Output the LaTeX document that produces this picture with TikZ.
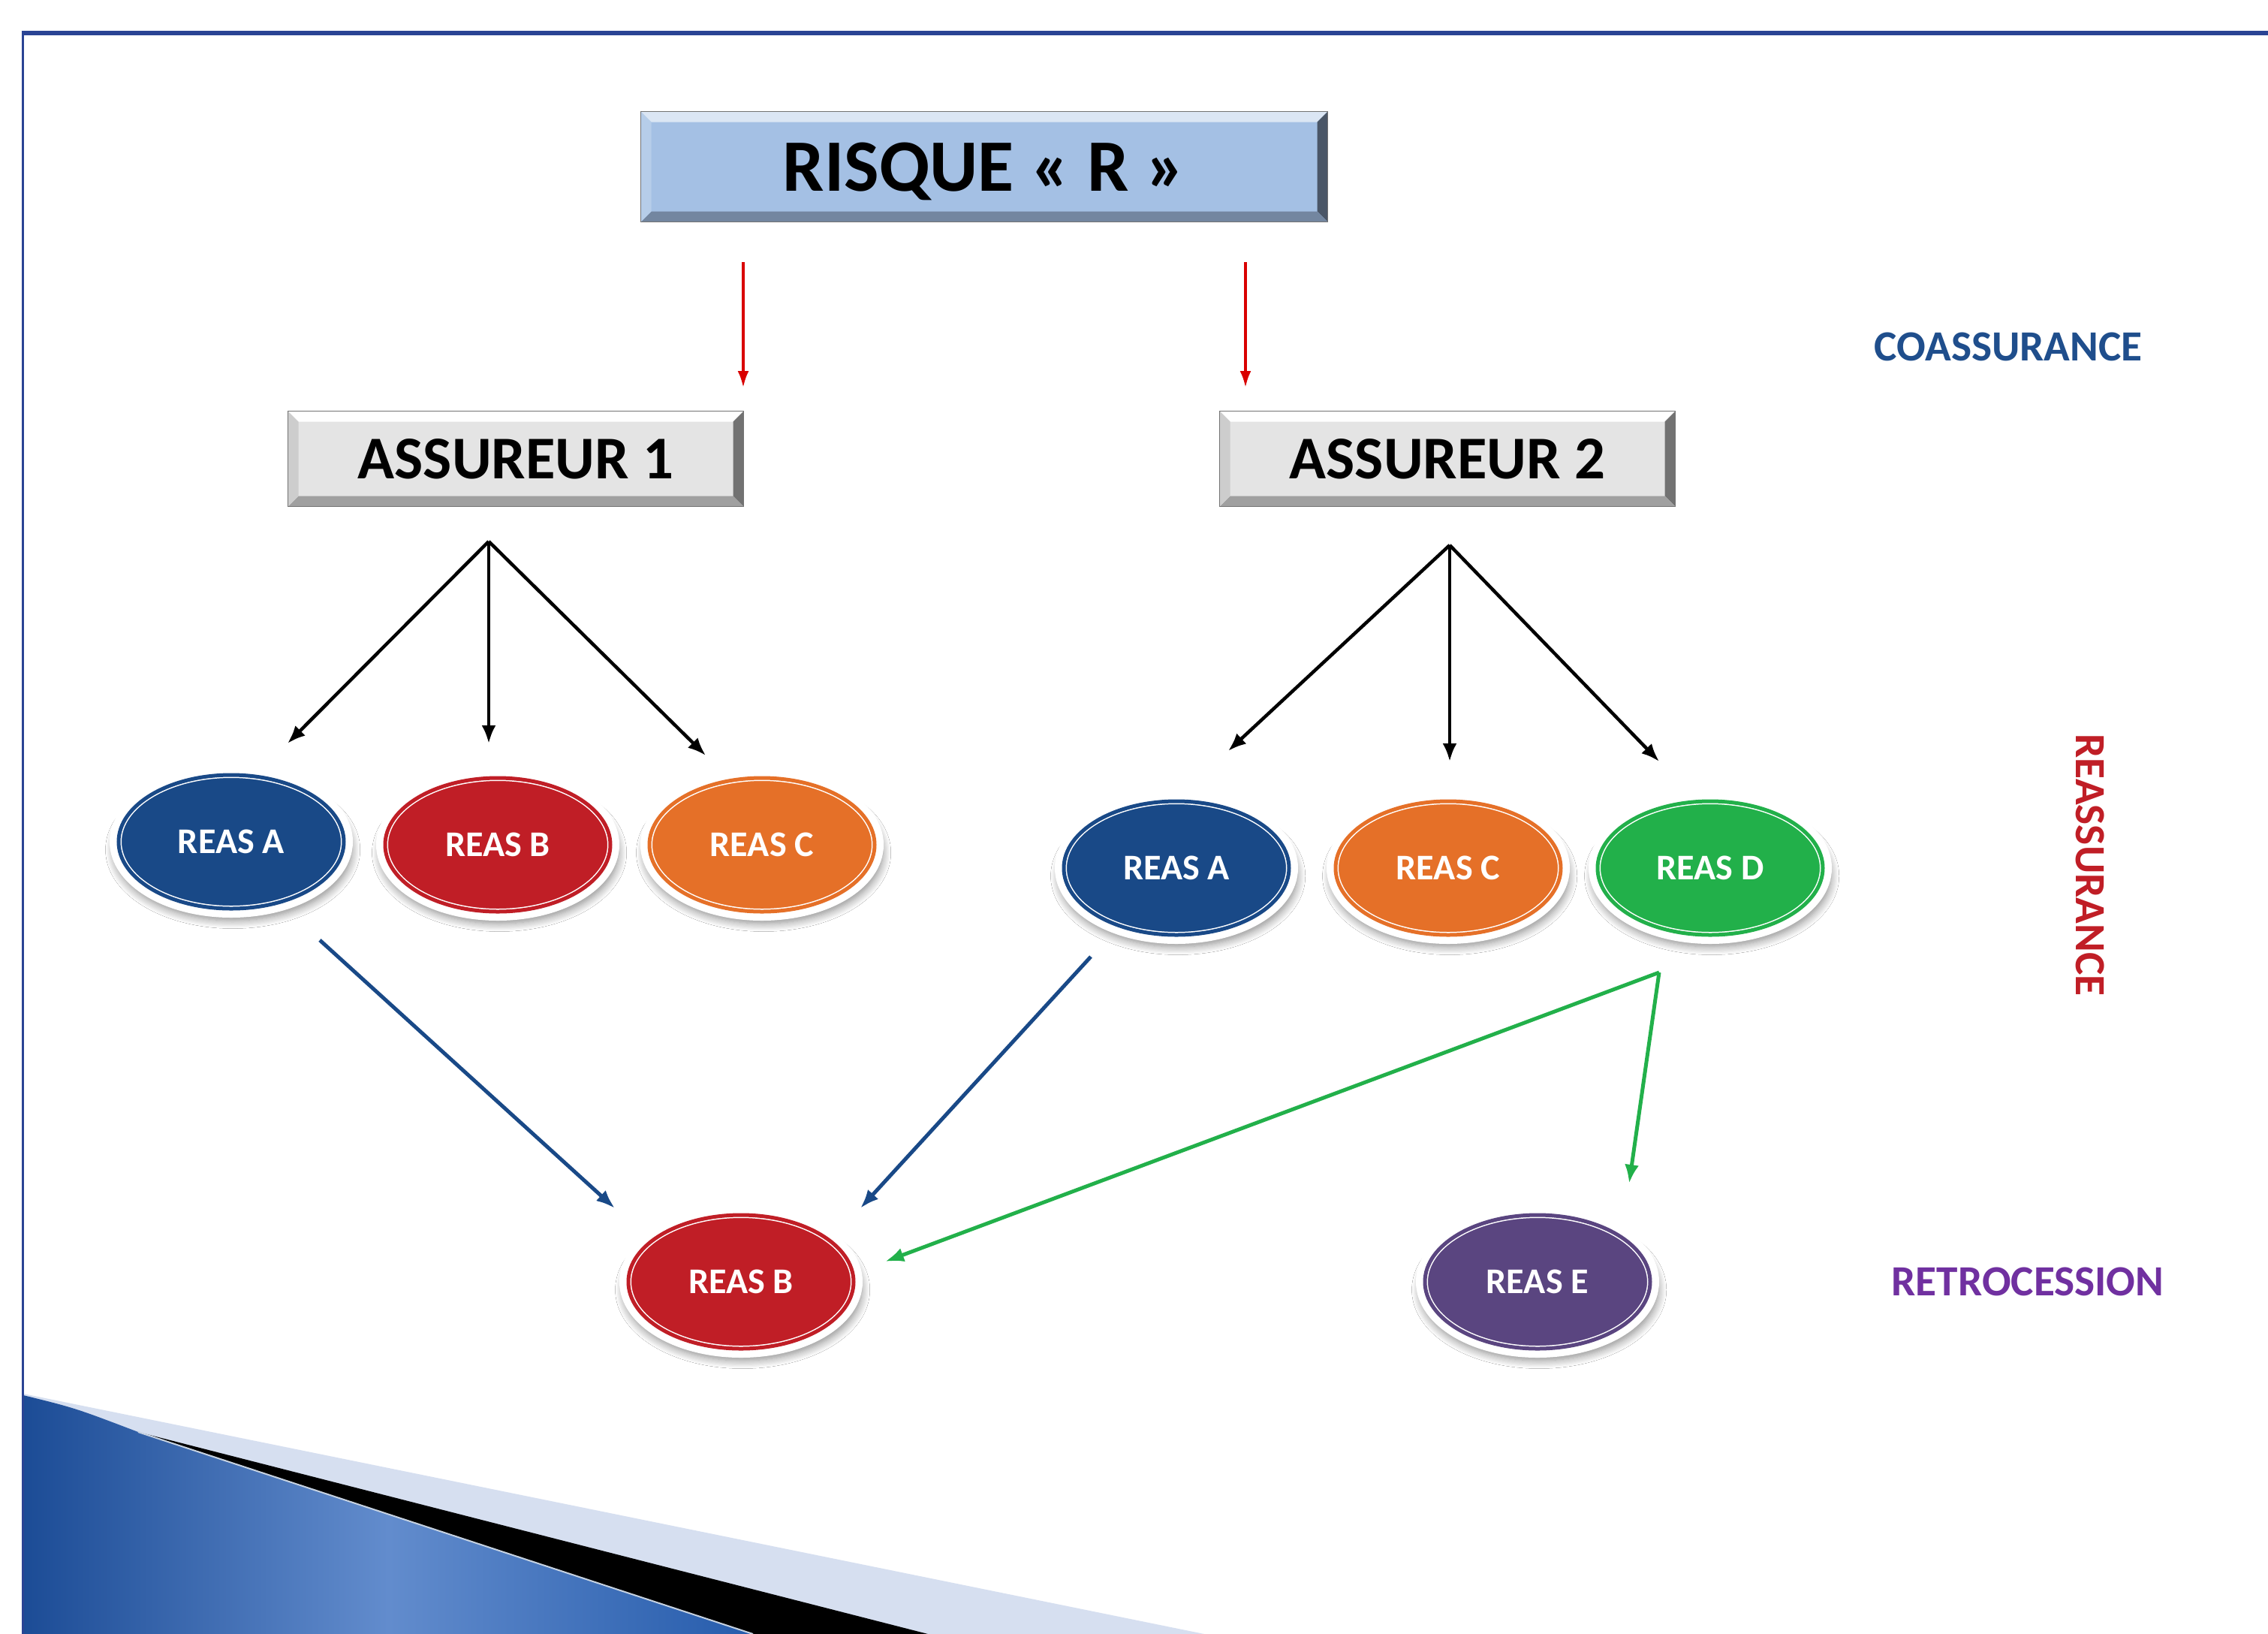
\documentclass[tikz,border=0pt]{standalone}
\usepackage{fontspec}
\setmainfont{Carlito}
\usetikzlibrary{shapes.geometric,shadows,shadows.blur,arrows.meta,positioning}

\definecolor{frameblue}{RGB}{42,68,148}
\definecolor{reasblue}{RGB}{25,73,135}
\definecolor{reasred}{RGB}{192,30,38}
\definecolor{reasorange}{RGB}{229,112,40}
\definecolor{reasgreen}{RGB}{34,176,74}
\definecolor{reaspurple}{RGB}{90,69,128}
\definecolor{coasblue}{RGB}{31,78,140}
\definecolor{retropurple}{RGB}{112,48,160}
\definecolor{risqfill}{RGB}{164,192,228}
\definecolor{assfill}{RGB}{228,228,228}
\definecolor{swooshlight}{RGB}{214,223,240}
\definecolor{swooshdark}{RGB}{28,76,150}
\definecolor{swooshmid}{RGB}{98,140,205}
\definecolor{swooshedge}{RGB}{38,92,172}

\newcommand{\bevw}{0.14cm}
% top, right, bottom, left colours of a bevelled box
\newcommand{\bevel}[4]{%
  \fill[#1] (path picture bounding box.north west) -- (path picture bounding box.north east)
    -- ([shift={(-\bevw,-\bevw)}]path picture bounding box.north east) -- ([shift={(\bevw,-\bevw)}]path picture bounding box.north west) -- cycle;
  \fill[#2] (path picture bounding box.north east) -- (path picture bounding box.south east)
    -- ([shift={(-\bevw,\bevw)}]path picture bounding box.south east) -- ([shift={(-\bevw,-\bevw)}]path picture bounding box.north east) -- cycle;
  \fill[#3] (path picture bounding box.south east) -- (path picture bounding box.south west)
    -- ([shift={(\bevw,\bevw)}]path picture bounding box.south west) -- ([shift={(-\bevw,\bevw)}]path picture bounding box.south east) -- cycle;
  \fill[#4] (path picture bounding box.south west) -- (path picture bounding box.north west)
    -- ([shift={(\bevw,-\bevw)}]path picture bounding box.north west) -- ([shift={(\bevw,\bevw)}]path picture bounding box.south west) -- cycle;
}

\begin{document}
\begin{tikzpicture}
    \tikzstyle{box}=[rectangle,inner sep=0pt,outer sep=0pt,draw=black!55,line width=0.4pt]
    \tikzstyle{reas}=[ellipse,minimum width=3.0cm,minimum height=1.78cm,inner sep=0pt,
        text=white,font=\fontsize{13.7}{16}\selectfont\bfseries,
        blur shadow={shadow xshift=0.02cm,shadow yshift=-0.1cm,shadow scale=1.06,
            shadow blur radius=0.1cm,shadow blur steps=10,shadow opacity=45},
        preaction={draw=white,line width=0.24cm},
        draw=white,line width=0.015cm,double distance=0.05cm]
    \tikzstyle{lab}=[font=\fontsize{16.3}{19}\selectfont\bfseries]

    \tikzstyle{red arrow}=[-{Latex[length=0.22cm,width=0.15cm]},line width=0.035cm,color=red!85!black]
    \tikzstyle{share}=[-{Latex[length=0.24cm,width=0.19cm]},line width=0.045cm]
    \tikzstyle{retro}=[-{Latex[length=0.25cm,width=0.19cm]},line width=0.05cm]

    \useasboundingbox (0,0) rectangle (30.21,-21.76);
    \fill[white] (0,0) rectangle (30.21,-21.76);

    % bottom left swoosh
    \fill[swooshlight] (0.31,-18.56) -- (16.04,-21.76) -- (0.31,-21.76) -- cycle;
    \fill[black] (1.84,-19.07) -- (12.36,-21.76) -- (10.03,-21.76) -- cycle;
    \shade[left color=swooshdark,right color=swooshedge,middle color=swooshmid]
        (0.31,-18.58) .. controls (1.0,-18.75) .. (1.84,-19.07) -- (10.03,-21.76) -- (0.31,-21.76) -- cycle;
    \draw[white!75!reasblue,line width=0.02cm] (1.84,-19.07) -- (10.03,-21.76);

    % frame
    \draw[frameblue,line width=0.06cm] (0.29,-0.44) -- (30.21,-0.44);
    \draw[frameblue,line width=0.03cm] (0.31,-0.44) -- (0.31,-21.76);

    % boxes
    \node[box,fill=risqfill,minimum width=9.15cm,minimum height=1.47cm,text depth=0pt,
        path picture={\bevel{risqfill!40!white}{risqfill!45!black}{risqfill!70!black}{risqfill!80!white}},
        font=\fontsize{28}{32}\selectfont\bfseries] (risque) at (13.11,-2.22) {RISQUE « R »};
    \node[box,fill=assfill,minimum width=6.07cm,minimum height=1.27cm,
        path picture={\bevel{white}{assfill!50!black}{assfill!70!black}{assfill!90!black}},
        font=\fontsize{23}{27}\selectfont\bfseries] (ass1) at (6.87,-6.11) {ASSUREUR 1};
    \node[box,fill=assfill,minimum width=6.07cm,minimum height=1.27cm,
        path picture={\bevel{white}{assfill!50!black}{assfill!70!black}{assfill!90!black}},
        font=\fontsize{23}{27}\selectfont\bfseries] (ass2) at (19.28,-6.11) {ASSUREUR 2};

    % reassureurs
    \node[reas,fill=reasblue,double=reasblue]     (a1) at ( 3.08,-11.21) {REAS A};
    \node[reas,fill=reasred,double=reasred]       (b1) at ( 6.63,-11.25) {REAS B};
    \node[reas,fill=reasorange,double=reasorange] (c1) at (10.15,-11.25) {REAS C};
    \node[reas,fill=reasblue,double=reasblue]     (a2) at (15.67,-11.56) {REAS A};
    \node[reas,fill=reasorange,double=reasorange] (c2) at (19.29,-11.56) {REAS C};
    \node[reas,fill=reasgreen,double=reasgreen]   (d2) at (22.78,-11.56) {REAS D};
    \node[reas,fill=reasred,double=reasred]       (b3) at ( 9.87,-17.07) {REAS B};
    \node[reas,fill=reaspurple,double=reaspurple] (e3) at (20.48,-17.07) {REAS E};

    % side labels
    \node[lab,text=coasblue]              (coas)  at (26.75,-4.62)  {COASSURANCE};
    \node[lab,text=reasred,rotate=-90]    (reass) at (27.84,-11.52) {REASSURANCE};
    \node[lab,text=retropurple]           (retr)  at (27.01,-17.07) {RETROCESSION};

    % free ends of the arrows
    \coordinate (r1) at ( 9.90,-3.49);
    \coordinate (r2) at (16.59,-3.49);
    \coordinate (f1) at ( 6.51,-7.21);
    \coordinate (f2) at (19.31,-7.26);
    \coordinate (ta1) at ( 3.83,-9.90);
    \coordinate (tb1) at ( 6.51,-9.90);
    \coordinate (tc1) at ( 9.40,-10.06);
    \coordinate (ta2) at (16.36,-10.00);
    \coordinate (tc2) at (19.31,-10.14);
    \coordinate (td2) at (22.10,-10.14);
    \coordinate (sa1) at ( 4.26,-12.52);
    \coordinate (sa2) at (14.53,-12.74);
    \coordinate (sd2) at (22.10,-12.95);
    \coordinate (hb3l) at ( 8.19,-16.09);
    \coordinate (hb3r) at (11.46,-16.09);
    \coordinate (hb3g) at (11.79,-16.80);
    \coordinate (he3)  at (21.70,-15.76);

    % coassurance
    \draw[red arrow] (r1) -- (r1 |- 0,-5.16);
    \draw[red arrow] (r2) -- (r2 |- 0,-5.16);

    % reassurance
    \foreach \t in {ta1,tb1,tc1} \draw[share] (f1) -- (\t);
    \foreach \t in {ta2,tc2,td2} \draw[share] (f2) -- (\t);

    % retrocession
    \draw[retro,color=reasblue] (sa1) -- (hb3l);
    \draw[retro,color=reasblue] (sa2) -- (hb3r);
    \draw[retro,color=reasgreen] (sd2) -- (hb3g);
    \draw[retro,color=reasgreen] (sd2) -- (he3);
\end{tikzpicture}
\end{document}
